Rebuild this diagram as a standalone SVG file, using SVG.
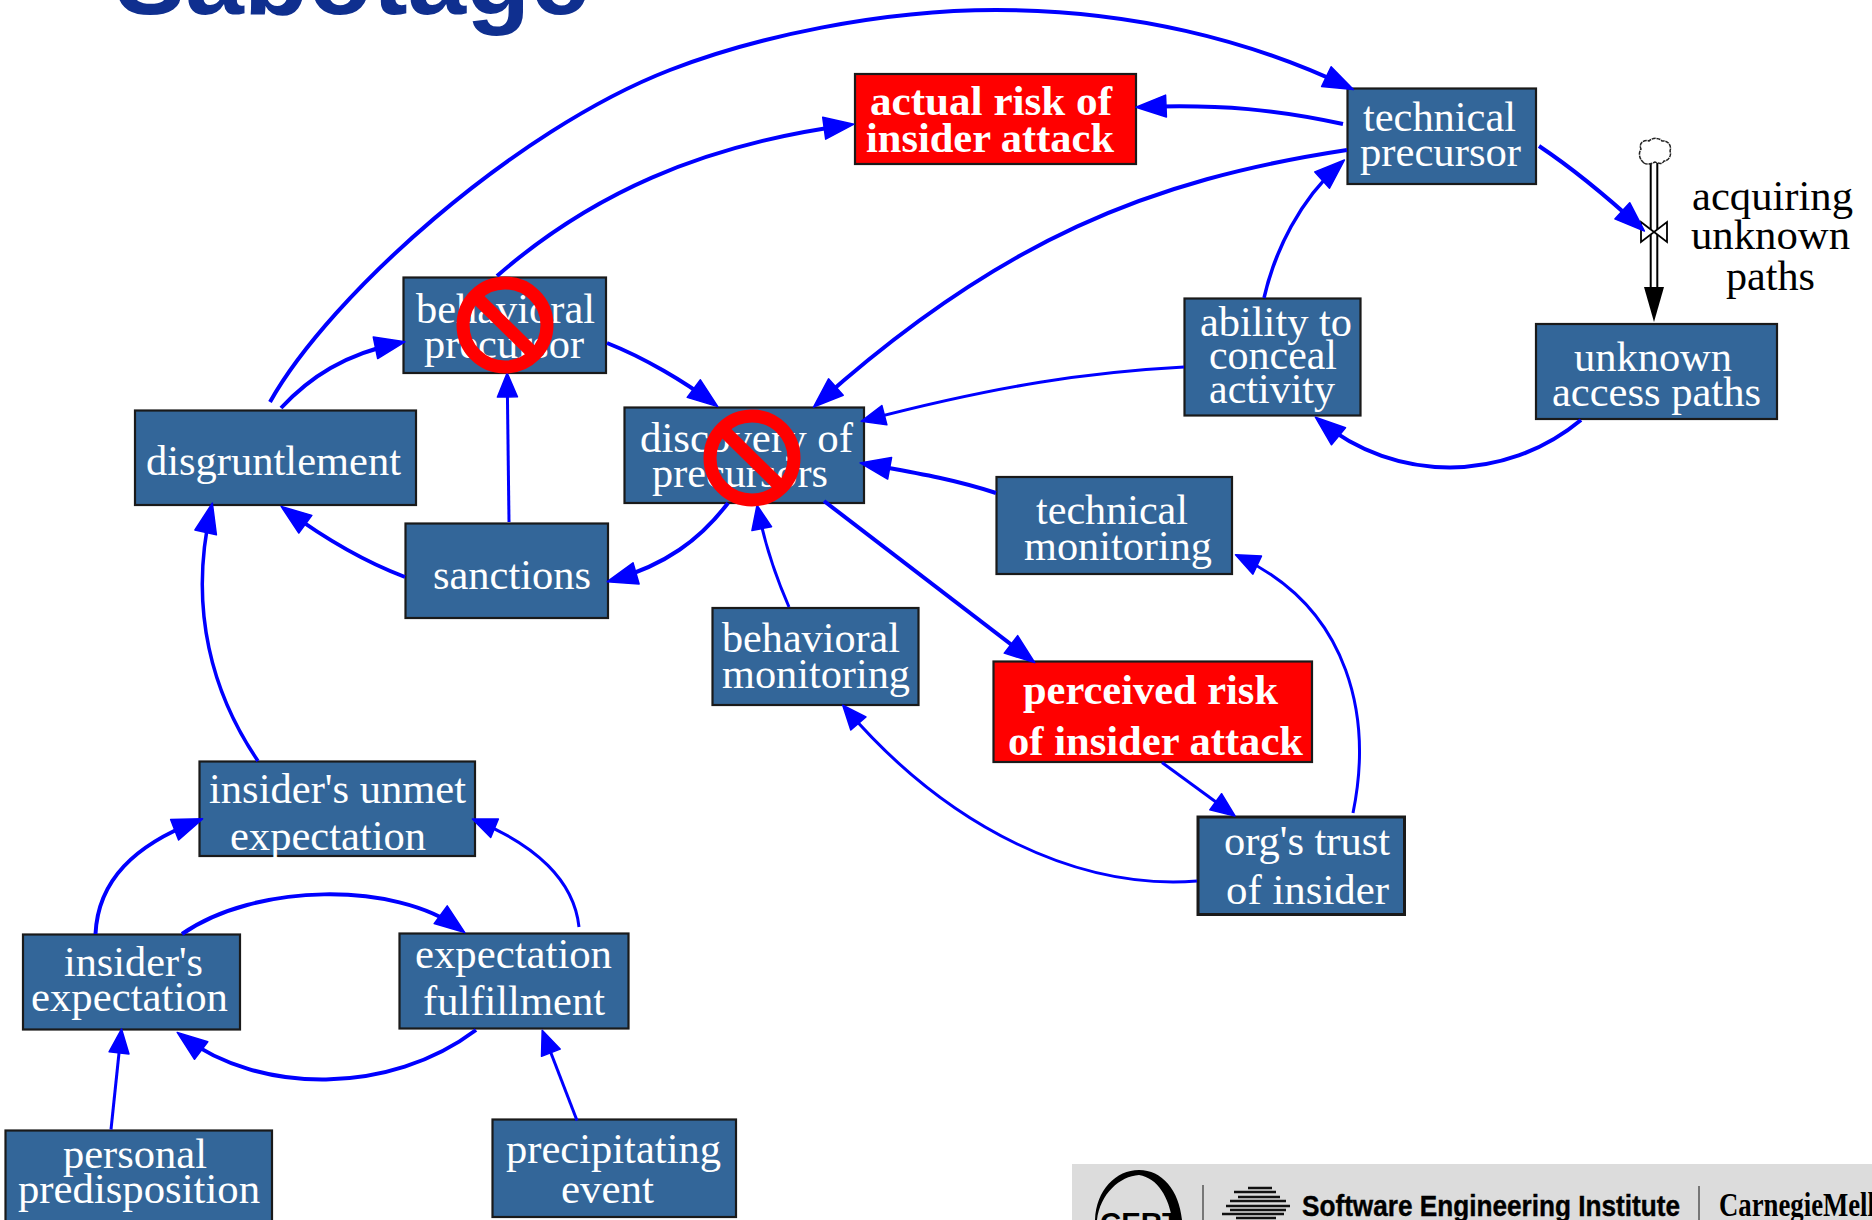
<svg xmlns="http://www.w3.org/2000/svg" width="1872" height="1220" viewBox="0 0 1872 1220">
<style>
.box{fill:#336699;stroke:#1a1a1a;stroke-width:2.2}
.red{fill:#ff0000;stroke:#1a1a1a;stroke-width:2.2}
text{font-family:"Liberation Serif","Times New Roman",serif;font-size:42px;fill:#fff}
.b{font-weight:bold}
.k{fill:#000}
.c{fill:none;stroke:#0000ff;stroke-width:4;marker-end:url(#a)}
.t{stroke-width:3;marker-end:url(#s)}
.stop{fill:none;stroke:#ff0000;stroke-width:13}
</style>
<defs>
<marker id="a" markerUnits="userSpaceOnUse" markerWidth="36" markerHeight="28" refX="25" refY="14" orient="auto" overflow="visible"><path d="M1,3 L31,14 L1,25 Z" fill="#0000ff" stroke="#0000ff" stroke-width="1.5" stroke-linejoin="round"/></marker>
<marker id="s" markerUnits="userSpaceOnUse" markerWidth="30" markerHeight="24" refX="20" refY="12" orient="auto" overflow="visible"><path d="M1,2 L25,12 L1,22 Z" fill="#0000ff" stroke="#0000ff" stroke-width="1.5" stroke-linejoin="round"/></marker>
</defs>

<rect width="1872" height="1220" fill="#fff"/>
<text id="title" x="115" y="14" style="font-family:'Liberation Sans',Arial,sans-serif;font-weight:bold;font-size:104px;fill:#0f2f8f" textLength="474" lengthAdjust="spacingAndGlyphs">Sabotage</text>

<g id="footer">
<rect x="1072" y="1164" width="800" height="56" fill="#dcdcdc"/>
<path d="M1095,1220 C1096,1190 1116,1170 1139,1170 C1162,1170 1179,1190 1182,1220 L1172,1220 C1169,1198 1158,1178 1139,1175 C1120,1176 1100,1194 1097,1220 Z" fill="#000"/>
<text x="1100" y="1233" class="k b" style="font-family:'Liberation Sans',Arial,sans-serif;font-size:29px" textLength="80" lengthAdjust="spacingAndGlyphs">CERT</text>
<path d="M1203,1185 V1220 M1699,1186 V1220" stroke="#555" stroke-width="1.5" fill="none"/>
<path d="M1248,1188 H1272 M1234,1192 H1276 M1238,1197 H1280 M1230,1201 H1286 M1226,1206 H1290 M1230,1210 H1286 M1222,1214 H1284 M1236,1218 H1276" stroke="#111" stroke-width="2.6" fill="none"/>
<text x="1302" y="1216" class="k b" style="font-family:'Liberation Sans',Arial,sans-serif;font-size:29px;stroke:#000;stroke-width:.4" textLength="378" lengthAdjust="spacingAndGlyphs">Software Engineering Institute</text>
<text x="1719" y="1216" class="k b" style="font-size:33px" textLength="156" lengthAdjust="spacingAndGlyphs">CarnegieMell</text>
</g>

<g id="actual-risk"><rect class="red" x="855" y="74" width="281" height="90"/><text class="b" x="870" y="115" textLength="242" lengthAdjust="spacingAndGlyphs">actual risk of</text><text class="b" x="866" y="152" textLength="248" lengthAdjust="spacingAndGlyphs">insider attack</text></g>
<g id="technical-precursor"><rect class="box" x="1347.500" y="88.500" width="188.500" height="95.500"/><text x="1363" y="131" textLength="153" lengthAdjust="spacingAndGlyphs">technical</text><text x="1360" y="166" textLength="161" lengthAdjust="spacingAndGlyphs">precursor</text></g>
<g id="behavioral-precursor"><rect class="box" x="403.500" y="277.500" width="202.500" height="95.500"/><text x="416" y="323" textLength="179" lengthAdjust="spacingAndGlyphs">behavioral</text><text x="424" y="358" textLength="160" lengthAdjust="spacingAndGlyphs">precursor</text></g>
<g id="ability"><rect class="box" x="1184.500" y="298.500" width="176" height="117"/><text x="1200" y="336" textLength="152" lengthAdjust="spacingAndGlyphs">ability to</text><text x="1209" y="369" textLength="128" lengthAdjust="spacingAndGlyphs">conceal</text><text x="1209" y="403" textLength="126" lengthAdjust="spacingAndGlyphs">activity</text></g>
<g id="unknown-access-paths"><rect class="box" x="1536" y="324" width="241" height="95"/><text x="1574" y="371" textLength="158" lengthAdjust="spacingAndGlyphs">unknown</text><text x="1552" y="406" textLength="209" lengthAdjust="spacingAndGlyphs">access paths</text></g>
<g id="disgruntlement"><rect class="box" x="135" y="410.500" width="281" height="94.500"/><text x="146" y="475" textLength="255" lengthAdjust="spacingAndGlyphs">disgruntlement</text></g>
<g id="discovery"><rect class="box" x="624.500" y="407.500" width="239.500" height="95.500"/><text x="640" y="452" textLength="213" lengthAdjust="spacingAndGlyphs">discovery of</text><text x="652" y="487" textLength="176" lengthAdjust="spacingAndGlyphs">precursors</text></g>
<g id="technical-monitoring"><rect class="box" x="996.500" y="477" width="235.500" height="97"/><text x="1036" y="524" textLength="152" lengthAdjust="spacingAndGlyphs">technical</text><text x="1024" y="560" textLength="188" lengthAdjust="spacingAndGlyphs">monitoring</text></g>
<g id="sanctions"><rect class="box" x="405.500" y="523.500" width="202.500" height="94.500"/><text x="433" y="589" textLength="158" lengthAdjust="spacingAndGlyphs">sanctions</text></g>
<g id="behavioral-monitoring"><rect class="box" x="712.500" y="608" width="206" height="97"/><text x="722" y="652" textLength="178" lengthAdjust="spacingAndGlyphs">behavioral</text><text x="722" y="688" textLength="188" lengthAdjust="spacingAndGlyphs">monitoring</text></g>
<g id="perceived-risk"><rect class="red" x="993.500" y="661.500" width="318.500" height="100.500"/><text class="b" x="1023" y="704" textLength="255" lengthAdjust="spacingAndGlyphs">perceived risk</text><text class="b" x="1008" y="755" textLength="295" lengthAdjust="spacingAndGlyphs">of insider attack</text></g>
<g id="orgs-trust"><rect class="box" x="1198" y="817" width="206.500" height="97.500" style="stroke-width:3"/><text x="1224" y="855" textLength="166" lengthAdjust="spacingAndGlyphs">org's trust</text><text x="1226" y="904" textLength="163" lengthAdjust="spacingAndGlyphs">of insider</text></g>
<g id="unmet-expectation"><rect class="box" x="199.500" y="761.500" width="275.500" height="94.500"/><text x="209" y="803" textLength="257" lengthAdjust="spacingAndGlyphs">insider's unmet</text><text x="230" y="850" textLength="196" lengthAdjust="spacingAndGlyphs">expectation</text></g>
<g id="insiders-expectation"><rect class="box" x="23" y="934.500" width="217" height="95"/><text x="64" y="976" textLength="139" lengthAdjust="spacingAndGlyphs">insider's</text><text x="31" y="1011" textLength="197" lengthAdjust="spacingAndGlyphs">expectation</text></g>
<g id="expectation-fulfillment"><rect class="box" x="399.500" y="933.500" width="229" height="95"/><text x="415" y="968" textLength="197" lengthAdjust="spacingAndGlyphs">expectation</text><text x="423" y="1015" textLength="182" lengthAdjust="spacingAndGlyphs">fulfillment</text></g>
<g id="personal-predisposition"><rect class="box" x="5.500" y="1130.500" width="266.500" height="110"/><text x="63" y="1168" textLength="144" lengthAdjust="spacingAndGlyphs">personal</text><text x="18" y="1203" textLength="242" lengthAdjust="spacingAndGlyphs">predisposition</text></g>
<g id="precipitating-event"><rect class="box" x="492.500" y="1119.500" width="243.500" height="97.500"/><text x="506" y="1163" textLength="215" lengthAdjust="spacingAndGlyphs">precipitating</text><text x="561" y="1203" textLength="93" lengthAdjust="spacingAndGlyphs">event</text></g>

<g id="acquiring-flow">
<path d="M1650.700,163 V288 M1657.300,163 V288" stroke="#000" stroke-width="2" fill="none"/>
<path d="M1644,287 H1664 L1654,322 Z" fill="#000"/>
<path d="M1644,163 C1638,158 1639,152 1641,149 C1638,143 1645,139 1649,141 C1653,137 1660,138 1662,141 C1668,140 1672,146 1670,151 C1672,156 1668,161 1664,161 C1662,165 1658,163 1655,162 C1651,164 1647,165 1644,163 Z" fill="#fff" stroke="#222" stroke-width="1.5" stroke-dasharray="4 0.800"/>
<path d="M1641,222 L1667,242 V222 L1641,242 Z" fill="#fff" stroke="#000" stroke-width="1.8" stroke-linejoin="miter"/>
<text class="k" x="1692" y="210" textLength="161" lengthAdjust="spacingAndGlyphs">acquiring</text>
<text class="k" x="1691" y="249" textLength="159" lengthAdjust="spacingAndGlyphs">unknown</text>
<text class="k" x="1726" y="290" textLength="89" lengthAdjust="spacingAndGlyphs">paths</text>
</g>

<g id="connectors">
<path class="c" d="M270,402 C330,295 515,130 670,70 C755,37 880,10 996,10 C1130,10 1250,40 1348,87"/>
<path class="c" d="M497,276 C590,195 700,145 848,125"/>
<path class="c" d="M281,408 C310,377 345,354 399,343"/>
<path class="c" d="M607,343 C645,358 685,382 713,403"/>
<path class="c t" d="M509,522 L507.200,378"/>
<path class="c" d="M405,577 C360,560 320,535 286,510"/>
<path class="c" d="M728,503 C700,540 665,565 613,580"/>
<path class="c" style="stroke-width:3.500" d="M258,761 C213,695 188,610 211,509"/>
<path class="c t" d="M789,607 C775,575 765,545 758,510"/>
<path class="c" d="M824,501 L1030,659"/>
<path class="c t" d="M1162,762.500 L1231,813"/>
<path class="c t" d="M1353,813 C1372,720 1352,610 1240,557"/>
<path class="c t" d="M1197,881 C1080,890 950,830 846,709"/>
<path class="c" d="M1343,124 C1280,110 1220,104 1142,107"/>
<path class="c" d="M1347,150 C1150,180 1000,240 818,403"/>
<path class="c" style="stroke-width:3.500" d="M1264,298 C1275,250 1300,200 1340,164"/>
<path class="c t" d="M1184,367 C1090,372 1000,385 866,420"/>
<path class="c" d="M1581,420 C1505,483 1395,483 1320,421"/>
<path class="c" d="M996,493 C950,478 910,472 866,464"/>
<path class="c" d="M1539,146 C1575,170 1605,195 1640,227"/>
<path class="c" d="M95.500,934 C98,880 135,845 197,821"/>
<path class="c t" d="M579,927 C574,880 535,845 477,821"/>
<path class="c" d="M182,934 C255,883 395,881 460,929"/>
<path class="c" d="M476,1030 C390,1095 260,1095 182,1036"/>
<path class="c t" d="M111,1129.500 L121,1034"/>
<path class="c t" d="M577,1120.500 L544,1035"/>
</g>

<g id="stop-behavioral-precursor"><circle class="stop" cx="505" cy="325" r="42"/><path class="stop" d="M476,297 L533,353"/></g>
<g id="stop-discovery"><circle class="stop" cx="752" cy="458" r="42"/><path class="stop" d="M723,430 L780,486"/></g>
</svg>
